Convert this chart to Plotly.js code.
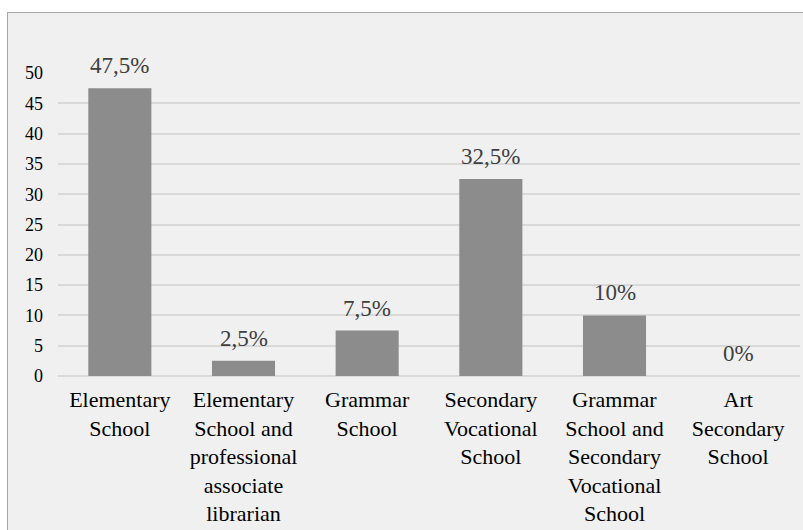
<!DOCTYPE html>
<html>
<head>
<meta charset="utf-8">
<script src="https://cdn.plot.ly/plotly-3.0.1.min.js"></script>
</head>
<body style="margin:0;background:#ffffff;">
<div id="fontprobe" style="position:absolute;left:-9999px;top:0;font-family:'Liberation Serif';font-size:22px;">Elementary School 0123456789,%</div>
<div id="frame" style="position:absolute;left:7px;top:12px;width:820px;height:540px;border:1px solid #a6a6a6;background:#f0f0f0;z-index:0;"></div>
<div id="chart" style="position:relative;z-index:1;"></div>
<script>
const categories = [
  "Elementary<br>School",
  "Elementary<br>School and<br>professional<br>associate<br>librarian",
  "Grammar<br>School",
  "Secondary<br>Vocational<br>School",
  "Grammar<br>School and<br>Secondary<br>Vocational<br>School",
  "Art<br>Secondary<br>School"
];
const values = [47.5, 2.5, 7.5, 32.5, 10, 0];
const tickVals = [0, 5, 10, 15, 20, 25, 30, 35, 40, 45, 50];

const labels = values.map(v => String(v).replace('.', ',') + '%');
const SERIF = 'Liberation Serif';

function draw() {
  const trace = {
    type: 'bar',
    x: categories,
    y: values,
    marker: {color: '#8c8c8c'},
    hoverinfo: 'none'
  };

  const annotations = categories.map((c, i) => ({
    x: c,
    y: values[i],
    xref: 'x',
    yref: 'y',
    text: labels[i],
    showarrow: false,
    yanchor: 'bottom',
    xanchor: 'center',
    yshift: 8,
    font: {family: SERIF, size: 23, color: '#404040'}
  }));

  const layout = {
    width: 803,
    height: 530,
    margin: {l: 58, r: 3, t: 73, b: 154},
    paper_bgcolor: 'rgba(0,0,0,0)',
    plot_bgcolor: 'rgba(0,0,0,0)',
    bargap: 0.49,
    showlegend: false,
    font: {family: SERIF},
    annotations: annotations,
    xaxis: {
      type: 'category',
      tickfont: {family: SERIF, size: 22, color: '#000000'},
      ticklabelstandoff: 8,
      showgrid: false,
      showline: false,
      ticks: '',
      tickangle: 0,
      automargin: false
    },
    yaxis: {
      range: [0, 50],
      tickvals: tickVals,
      ticktext: tickVals.map(String),
      tickfont: {family: SERIF, size: 18, color: '#000000'},
      showgrid: true,
      gridcolor: '#d9d9d9',
      gridwidth: 1.5,
      zeroline: true,
      zerolinecolor: '#d9d9d9',
      zerolinewidth: 1.5,
      showline: false,
      ticks: '',
      ticklabelstandoff: 14,
      automargin: false
    }
  };

  return Plotly.newPlot('chart', [trace], layout, {displayModeBar: false});
}

const probe = document.getElementById('fontprobe');
void probe.offsetWidth;
Promise.resolve(draw()).then(() => {
  const p = document.getElementById('fontprobe');
  if (p) p.remove();
});
</script>
</body>
</html>
